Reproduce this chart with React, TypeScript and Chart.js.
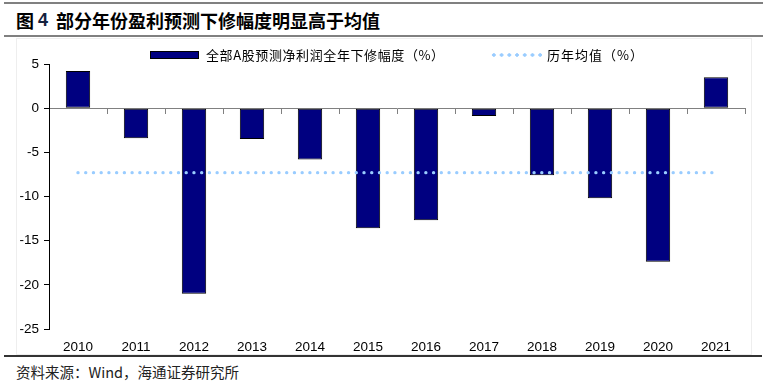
import React, { useEffect, useRef } from "react";
import { Chart, registerables } from "chart.js";

Chart.register(...registerables);

const years = ["2010", "2011", "2012", "2013", "2014", "2015", "2016", "2017", "2018", "2019", "2020", "2021"];
const downRevision = [4.2, -3.4, -21.0, -3.5, -5.8, -13.6, -12.7, -0.9, -7.6, -10.2, -17.4, 3.5];
const historicalMean = -7.3;
const meanSeries = years.map(() => historicalMean);
const yTicks = { min: -25, max: 5, step: 5 };

const seriesBarLabel = "全部A股预测净利润全年下修幅度（%）";
const seriesLineLabel = "历年均值（%）";
const titleText = "部分年份盈利预测下修幅度明显高于均值";
const sourceText = "资料来源：Wind，海通证券研究所";

const tickFont = { family: "'Liberation Sans', Arial, sans-serif", size: 13.5 };

export default function App() {
  const ref = useRef<HTMLCanvasElement | null>(null);

  useEffect(() => {
    if (!ref.current) return;
    const chart = new Chart(ref.current, {
      type: "bar",
      data: {
        labels: years,
        datasets: [
          {
            type: "line",
            label: seriesLineLabel,
            data: meanSeries,
            borderColor: "#99ccff",
            backgroundColor: "#99ccff",
            borderWidth: 3.4,
            borderDash: [0, 7.73],
            borderCapStyle: "round",
            pointRadius: 0,
            pointHoverRadius: 0,
            fill: false,
            order: 0,
            xAxisID: "x",
          } as any,
          {
            type: "bar",
            label: seriesBarLabel,
            data: downRevision,
            backgroundColor: "#000080",
            borderColor: "#000000",
            borderWidth: 1,
            borderSkipped: false,
            barPercentage: 0.42,
            categoryPercentage: 1,
            order: 1,
            xAxisID: "x",
          } as any,
        ],
      },
      options: {
        animation: false,
        responsive: false,
        maintainAspectRatio: false,
        layout: { padding: { left: 0, right: 25, top: 26, bottom: 0 } },
        plugins: {
          legend: { display: false },
          title: { display: false },
          tooltip: { enabled: false },
        },
        scales: {
          x: {
            type: "category",
            position: "bottom",
            offset: true,
            border: { display: false },
            grid: { display: false, drawTicks: false },
            ticks: { color: "#000", font: tickFont, padding: 10, maxRotation: 0, autoSkip: false },
            afterFit: (s: any) => {
              s.height = 27;
            },
          },
          x2: {
            type: "category",
            axis: "x",
            labels: years,
            position: { y: 0 } as any,
            offset: true,
            border: { display: true, color: "#808080", width: 1 },
            grid: { display: true, drawOnChartArea: false, drawTicks: true, tickLength: 5, color: "#808080", offset: true },
            ticks: { display: false },
          } as any,
          y: {
            min: yTicks.min,
            max: yTicks.max,
            border: { display: true, color: "#000", width: 1 },
            grid: { drawOnChartArea: false, drawTicks: true, tickLength: 5, color: "#000" },
            ticks: { stepSize: yTicks.step, color: "#000", font: tickFont, padding: 5 },
            afterFit: (s: any) => {
              s.width = 49;
            },
          },
        },
      },
    });
    return () => chart.destroy();
  }, []);

  const cjk = "'Noto Sans CJK SC', 'Noto Sans', sans-serif";

  return (
    <div
      style={{
        position: "absolute",
        left: 0,
        top: 0,
        width: 770,
        height: 386,
        background: "#fff",
        overflow: "hidden",
        fontFamily: cjk,
      }}
    >
      <div style={{ position: "absolute", left: 4, top: 2, width: 759, height: 2, background: "#808080" }} />
      <div style={{ position: "absolute", left: 16, top: 7, height: 26, lineHeight: "26px", fontSize: 18, fontWeight: 700, color: "#000", whiteSpace: "nowrap" }}>
        图
      </div>
      <div style={{ position: "absolute", left: 38, top: 7, height: 26, lineHeight: "26px", fontSize: 18, fontWeight: 700, color: "#14213d", fontFamily: "'Liberation Sans', Arial, sans-serif" }}>
        4
      </div>
      <div style={{ position: "absolute", left: 56, top: 7, height: 26, lineHeight: "26px", fontSize: 18, fontWeight: 700, color: "#000", whiteSpace: "nowrap" }}>
        {titleText}
      </div>
      <div style={{ position: "absolute", left: 4, top: 35, width: 759, height: 2, background: "#808080" }} />

      <div style={{ position: "absolute", left: 16, top: 38, width: 736, height: 317, border: "1px solid #eeeeee", boxSizing: "border-box" }} />

      <canvas ref={ref} width={770} height={318} style={{ position: "absolute", left: 0, top: 38, width: 770, height: 318 }} />

      {/* legend */}
      <div style={{ position: "absolute", left: 150, top: 51, width: 49, height: 8, background: "#000080", border: "1px solid #000", boxSizing: "border-box" }} />
      <div style={{ position: "absolute", left: 206, top: 46, height: 18, lineHeight: "18px", fontSize: 13, letterSpacing: "0.6px", color: "#000", whiteSpace: "nowrap" }}>
        {seriesBarLabel}
      </div>
      <div
        style={{
          position: "absolute",
          left: 490,
          top: 53,
          width: 52,
          height: 4,
          backgroundImage: "radial-gradient(circle, #99ccff 1.5px, rgba(153,204,255,0) 1.9px)",
          backgroundSize: "7.73px 4px",
          backgroundRepeat: "repeat-x",
        }}
      />
      <div style={{ position: "absolute", left: 547, top: 46, height: 18, lineHeight: "18px", fontSize: 13, letterSpacing: "1px", color: "#000", whiteSpace: "nowrap" }}>
        {seriesLineLabel}
      </div>

      <div style={{ position: "absolute", left: 4, top: 355, width: 758, height: 1.5, background: "#333" }} />
      <div style={{ position: "absolute", left: 16, top: 362, height: 20, lineHeight: "20px", fontSize: 14.5, color: "#222", whiteSpace: "nowrap" }}>
        {sourceText}
      </div>
    </div>
  );
}
